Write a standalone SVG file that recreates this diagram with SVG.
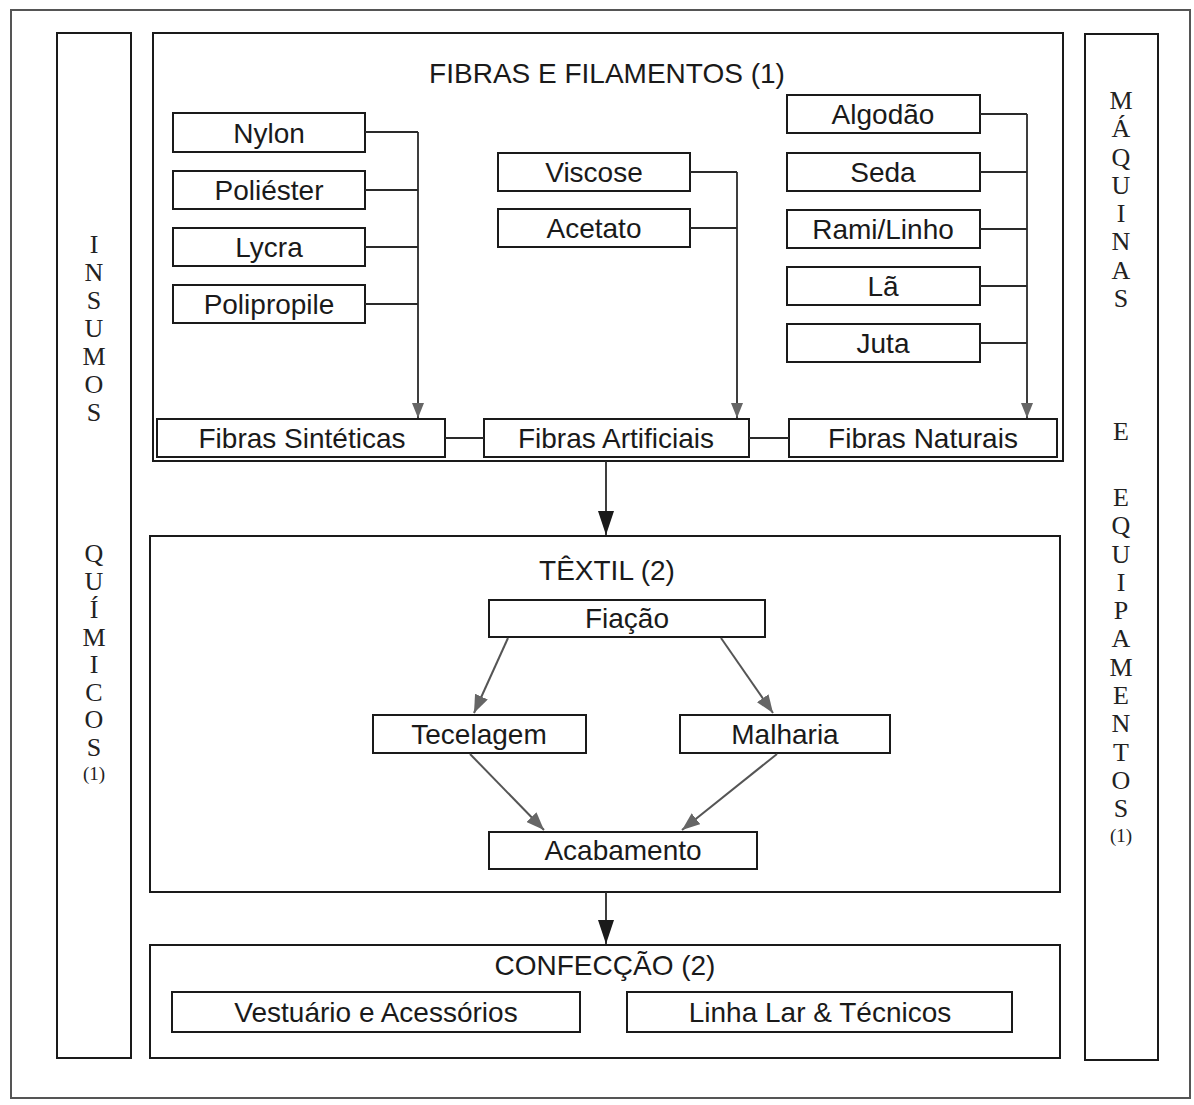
<svg xmlns="http://www.w3.org/2000/svg" width="1194" height="1105" viewBox="0 0 1194 1105">
<style>
.box{fill:#fff;stroke:#1a1a1a;stroke-width:2}
.frame{fill:none;stroke:#1a1a1a;stroke-width:2}
.lbl{font-family:"Liberation Sans",Arial,sans-serif;font-size:28px;fill:#1a1a1a;text-anchor:middle}
.side{font-family:"Liberation Serif","Times New Roman",serif;font-size:26px;fill:#222;text-anchor:middle}
.side1{font-family:"Liberation Serif","Times New Roman",serif;font-size:19px;fill:#222;text-anchor:middle}
.con{fill:none;stroke:#2a2a2a;stroke-width:1.8}
.gcon{fill:none;stroke:#555;stroke-width:2}
</style>
<defs>
<marker id="ga" viewBox="0 0 15 12" refX="15" refY="6" markerWidth="15" markerHeight="12" markerUnits="userSpaceOnUse" orient="auto">
<path d="M0,0 L15,6 L0,12 Z" fill="#666"/>
</marker>
<marker id="da" viewBox="0 0 18 14" refX="18" refY="7" markerWidth="18" markerHeight="14" markerUnits="userSpaceOnUse" orient="auto">
<path d="M0,0 L18,7 L0,14 Z" fill="#666"/>
</marker>
<marker id="ba" viewBox="0 0 24 16" refX="24" refY="8" markerWidth="24" markerHeight="16" markerUnits="userSpaceOnUse" orient="auto">
<path d="M0,0 L24,8 L0,16 Z" fill="#1a1a1a"/>
</marker>
</defs>
<rect width="1194" height="1105" fill="#fff"/>
<rect x="11" y="10" width="1179" height="1088" fill="none" stroke="#555" stroke-width="2"/>

<g id="insumos">
<rect class="frame" x="57" y="33" width="74" height="1025"/>
<text class="side" x="94" y="253">I</text>
<text class="side" x="94" y="281">N</text>
<text class="side" x="94" y="309">S</text>
<text class="side" x="94" y="337">U</text>
<text class="side" x="94" y="365">M</text>
<text class="side" x="94" y="393">O</text>
<text class="side" x="94" y="421">S</text>
<text class="side" x="94" y="562">Q</text>
<text class="side" x="94" y="590">U</text>
<text class="side" x="94" y="618">Í</text>
<text class="side" x="94" y="646">M</text>
<text class="side" x="94" y="673">I</text>
<text class="side" x="94" y="701">C</text>
<text class="side" x="94" y="728">O</text>
<text class="side" x="94" y="756">S</text>
<text class="side1" x="94" y="780">(1)</text>
</g>

<g id="maquinas">
<rect class="frame" x="1085" y="34" width="73" height="1026"/>
<text class="side" x="1121" y="109">M</text>
<text class="side" x="1121" y="137">Á</text>
<text class="side" x="1121" y="166">Q</text>
<text class="side" x="1121" y="194">U</text>
<text class="side" x="1121" y="222">I</text>
<text class="side" x="1121" y="250">N</text>
<text class="side" x="1121" y="279">A</text>
<text class="side" x="1121" y="307">S</text>
<text class="side" x="1121" y="440">E</text>
<text class="side" x="1121" y="506">E</text>
<text class="side" x="1121" y="534">Q</text>
<text class="side" x="1121" y="563">U</text>
<text class="side" x="1121" y="591">I</text>
<text class="side" x="1121" y="619">P</text>
<text class="side" x="1121" y="647">A</text>
<text class="side" x="1121" y="676">M</text>
<text class="side" x="1121" y="704">E</text>
<text class="side" x="1121" y="732">N</text>
<text class="side" x="1121" y="761">T</text>
<text class="side" x="1121" y="789">O</text>
<text class="side" x="1121" y="817">S</text>
<text class="side1" x="1121" y="842">(1)</text>
</g>

<g id="fibras">
<rect class="frame" x="153" y="33" width="910" height="428"/>
<text class="lbl" x="607" y="83">FIBRAS E FILAMENTOS (1)</text>
</g>
<g id="nylon"><rect class="box" x="173" y="113" width="192" height="39"/><text class="lbl" x="269" y="143">Nylon</text></g>
<g id="poliester"><rect class="box" x="173" y="171" width="192" height="38"/><text class="lbl" x="269" y="200">Poliéster</text></g>
<g id="lycra"><rect class="box" x="173" y="228" width="192" height="38"/><text class="lbl" x="269" y="257">Lycra</text></g>
<g id="polipropile"><rect class="box" x="173" y="285" width="192" height="38"/><text class="lbl" x="269" y="314">Polipropile</text></g>
<g id="viscose"><rect class="box" x="498" y="153" width="192" height="38"/><text class="lbl" x="594" y="182">Viscose</text></g>
<g id="acetato"><rect class="box" x="498" y="209" width="192" height="38"/><text class="lbl" x="594" y="238">Acetato</text></g>
<g id="algodao"><rect class="box" x="787" y="95" width="193" height="38"/><text class="lbl" x="883" y="124">Algodão</text></g>
<g id="seda"><rect class="box" x="787" y="153" width="193" height="38"/><text class="lbl" x="883" y="182">Seda</text></g>
<g id="rami"><rect class="box" x="787" y="210" width="193" height="38"/><text class="lbl" x="883" y="239">Rami/Linho</text></g>
<g id="la"><rect class="box" x="787" y="267" width="193" height="38"/><text class="lbl" x="883" y="296">Lã</text></g>
<g id="juta"><rect class="box" x="787" y="324" width="193" height="38"/><text class="lbl" x="883" y="353">Juta</text></g>
<g id="sinteticas"><rect class="box" x="157" y="419" width="288" height="38"/><text class="lbl" x="302" y="448">Fibras Sintéticas</text></g>
<g id="artificiais"><rect class="box" x="484" y="419" width="265" height="38"/><text class="lbl" x="616" y="448">Fibras Artificiais</text></g>
<g id="naturais"><rect class="box" x="789" y="419" width="268" height="38"/><text class="lbl" x="923" y="448">Fibras Naturais</text></g>

<g id="textil">
<rect class="frame" x="150" y="536" width="910" height="356"/>
<text class="lbl" x="607" y="580">TÊXTIL (2)</text>
</g>
<g id="fiacao"><rect class="box" x="489" y="600" width="276" height="37"/><text class="lbl" x="627" y="628">Fiação</text></g>
<g id="tecelagem"><rect class="box" x="373" y="715" width="213" height="38"/><text class="lbl" x="479" y="744">Tecelagem</text></g>
<g id="malharia"><rect class="box" x="680" y="715" width="210" height="38"/><text class="lbl" x="785" y="744">Malharia</text></g>
<g id="acabamento"><rect class="box" x="489" y="832" width="268" height="37"/><text class="lbl" x="623" y="860">Acabamento</text></g>

<g id="confeccao">
<rect class="frame" x="150" y="945" width="910" height="113"/>
<text class="lbl" x="605" y="975">CONFECÇÃO (2)</text>
</g>
<g id="vestuario"><rect class="box" x="172" y="992" width="408" height="40"/><text class="lbl" x="376" y="1022">Vestuário e Acessórios</text></g>
<g id="linha"><rect class="box" x="627" y="992" width="385" height="40"/><text class="lbl" x="820" y="1022">Linha Lar &amp; Técnicos</text></g>

<g id="connectors">
<path class="con" d="M365,132 H418 M365,190 H418 M365,247 H418 M365,304 H418"/>
<path class="con" d="M418,132 V418" marker-end="url(#ga)"/>
<path class="con" d="M690,172 H737 M690,228 H737"/>
<path class="con" d="M737,172 V418" marker-end="url(#ga)"/>
<path class="con" d="M980,114 H1027 M980,172 H1027 M980,229 H1027 M980,286 H1027 M980,343 H1027"/>
<path class="con" d="M1027,114 V418" marker-end="url(#ga)"/>
<path class="con" d="M445,438 H484 M749,438 H789"/>
<path class="con" d="M606,461 V535" marker-end="url(#ba)"/>
<path class="gcon" d="M508,638 L474,713" marker-end="url(#da)"/>
<path class="gcon" d="M721,638 L773,713" marker-end="url(#da)"/>
<path class="gcon" d="M470,754 L544,830" marker-end="url(#da)"/>
<path class="gcon" d="M777,754 L682,830" marker-end="url(#da)"/>
<path class="con" d="M606,892 V944" marker-end="url(#ba)"/>
</g>
</svg>
